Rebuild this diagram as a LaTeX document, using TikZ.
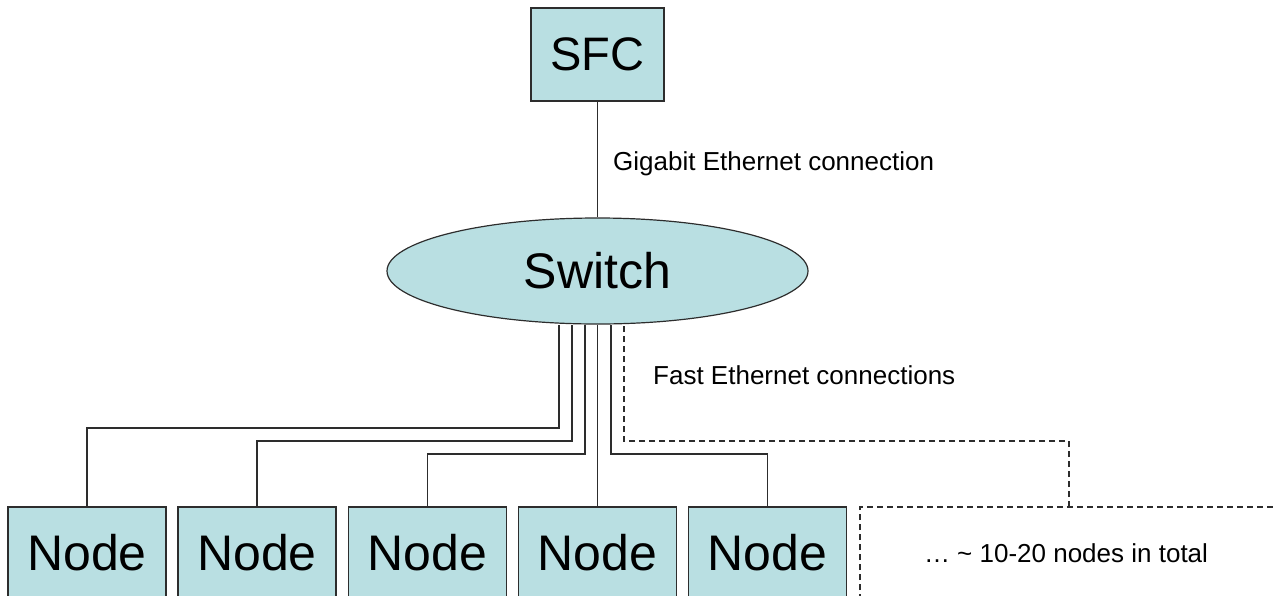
\documentclass[tikz,border=0pt]{standalone}
\usepackage{fontspec}
\setmainfont{Liberation Sans}
\usetikzlibrary{shapes.geometric,backgrounds}
\definecolor{boxfill}{RGB}{185,223,226}
\definecolor{linecol}{RGB}{45,45,45}
\begin{document}
\begin{tikzpicture}[x=1pt,y=-1pt,
  box/.style={draw=linecol,fill=boxfill,line width=1.2pt,inner sep=0pt},
  nodebox/.style={box,minimum width=158pt,minimum height=91pt,font=\fontsize{50}{56}\selectfont},
  wire/.style={draw=linecol,line width=1.2pt},
  dwire/.style={wire,dash pattern=on 6pt off 4pt},
  lbl/.style={font=\fontsize{26}{30}\selectfont,inner sep=0pt}]
\useasboundingbox (0,0) rectangle (1277,595);
\node[box,minimum width=133pt,minimum height=93pt,font=\fontsize{47}{52}\selectfont] (sfc) at (597.5,54.5) {SFC};
\node[box,ellipse,minimum width=421pt,minimum height=106pt,font=\fontsize{50}{56}\selectfont] (switch) at (597.5,271) {Switch};
\node[nodebox] (n1) at (87,552.5) {Node};
\node[nodebox] (n2) at (257,552.5) {Node};
\node[nodebox] (n3) at (427.5,552.5) {Node};
\node[nodebox] (n4) at (597.5,552.5) {Node};
\node[nodebox] (n5) at (767.5,552.5) {Node};
\node[lbl,anchor=west] (giga) at (613,164) {Gigabit Ethernet connection};
\node[lbl,anchor=west] (fast) at (653,375) {Fast Ethernet connections};
\node[lbl] (more) at (1066,553) {… \char`~{} 10-20 nodes in total};
\coordinate (a1) at (559,428);
\coordinate (a2) at (572,441);
\coordinate (a3) at (585,454);
\coordinate (a5) at (611,454);
\coordinate (a6) at (624,441);
\coordinate (m1) at (1069,507);
\coordinate (mb) at (860,600);
\coordinate (mr) at (1285,507);
\begin{scope}[on background layer]
\draw[wire] (sfc.south) -- (switch.north);
\draw[wire] (n1.north) |- (a1) -- (switch.south -| a1);
\draw[wire] (n2.north) |- (a2) -- (switch.south -| a2);
\draw[wire] (n3.north) |- (a3) -- (switch.south -| a3);
\draw[wire] (n4.north) -- (switch.south -| n4.north);
\draw[wire] (n5.north) |- (a5) -- (switch.south -| a5);
\draw[dwire] (m1) |- (a6) -- (switch.south -| a6);
\draw[dwire] (mb) |- (mr);
\end{scope}
\end{tikzpicture}
\end{document}
